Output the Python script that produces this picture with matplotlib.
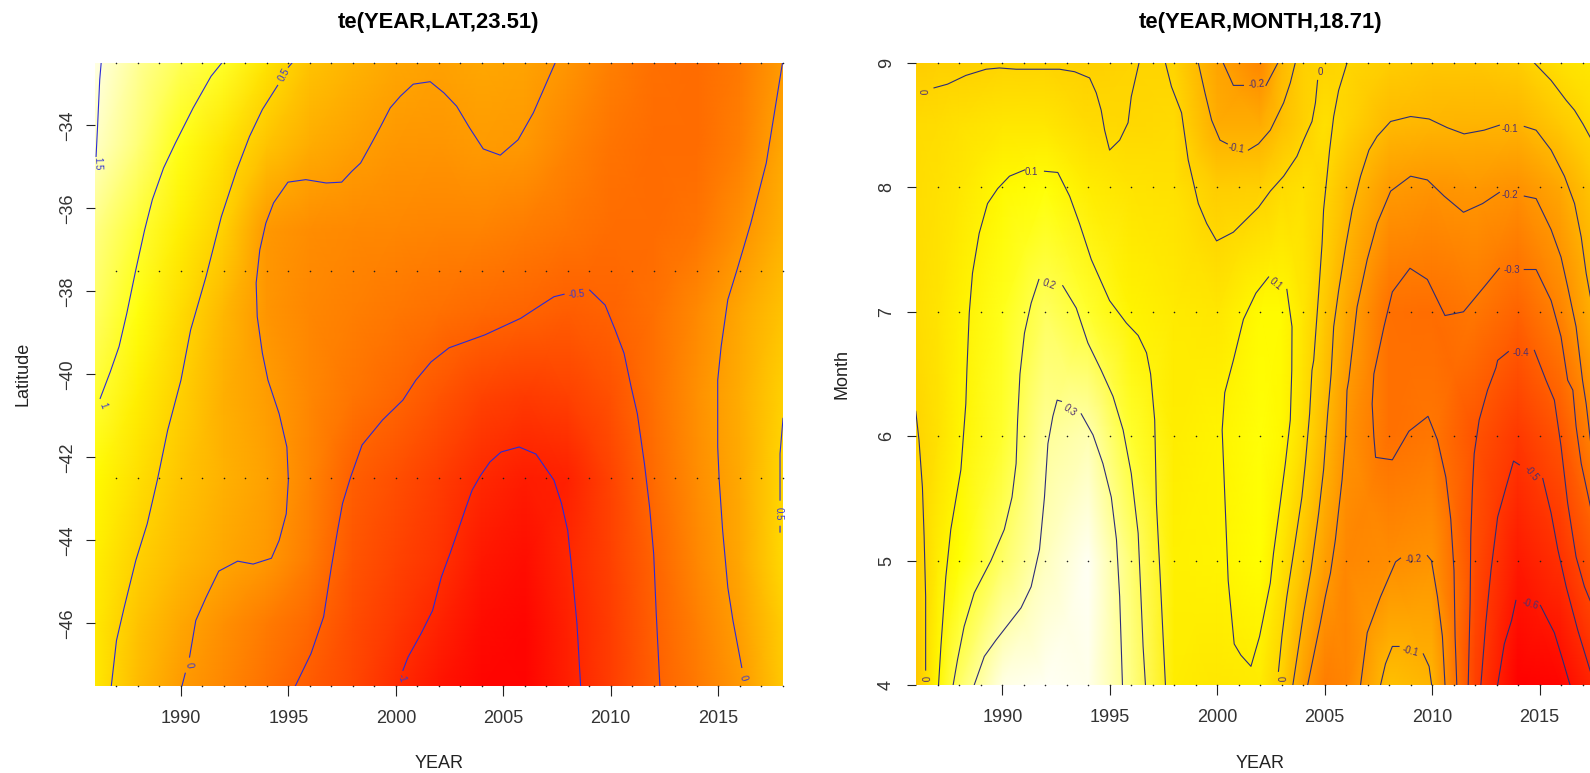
import numpy as np
import matplotlib
matplotlib.use('Agg')
import matplotlib.pyplot as plt
from matplotlib.colors import LinearSegmentedColormap

plt.rcParams['font.family'] = ['Liberation Sans', 'DejaVu Sans']

gap = (np.nan, np.nan)

# --- left panel: te(YEAR,LAT) ---
lat_years = [1986, 1988, 1990, 1992, 1994, 1996, 1998, 2000, 2002, 2004, 2006, 2008, 2010, 2012, 2014, 2016, 2018]
lat_rows = [-47.5, -46, -44.5, -42.5, -40.5, -38.5, -36.5, -34.5, -32.5]
lat_z = [
    [0.70, 0.28, 0.00, -0.18, -0.37, -0.57, -0.75, -0.98, -1.20, -1.33, -1.35, -1.10, -0.83, -0.53, -0.30, -0.03, 0.40],
    [0.70, 0.35, 0.10, -0.10, -0.28, -0.45, -0.70, -0.88, -1.07, -1.27, -1.33, -1.08, -0.83, -0.52, -0.25, 0.03, 0.45],
    [0.75, 0.47, 0.27, 0.10, -0.02, -0.28, -0.62, -0.78, -0.93, -1.17, -1.25, -1.03, -0.80, -0.50, -0.18, 0.10, 0.55],
    [0.85, 0.60, 0.38, 0.20, 0.06, -0.20, -0.53, -0.68, -0.83, -1.01, -1.12, -1.08, -0.78, -0.43, -0.12, 0.13, 0.53],
    [1.05, 0.75, 0.47, 0.18, 0.02, -0.18, -0.33, -0.46, -0.62, -0.78, -0.85, -0.80, -0.65, -0.38, -0.10, 0.15, 0.48],
    [1.20, 0.92, 0.58, 0.25, -0.05, -0.18, -0.25, -0.32, -0.38, -0.44, -0.49, -0.55, -0.50, -0.38, -0.15, 0.10, 0.35],
    [1.30, 1.05, 0.75, 0.47, -0.02, -0.12, -0.15, -0.18, -0.20, -0.22, -0.27, -0.33, -0.40, -0.42, -0.35, -0.10, 0.20],
    [1.50, 1.25, 0.95, 0.65, 0.35, 0.15, 0.05, -0.04, -0.05, 0.00, -0.03, -0.20, -0.35, -0.42, -0.42, -0.25, 0.10],
    [1.60, 1.35, 1.15, 1.00, 0.65, 0.35, 0.22, 0.10, 0.06, 0.10, 0.07, -0.05, -0.25, -0.38, -0.42, -0.30, 0.00],
]

lat_c15 = [(1986.29, -32.48), (1986.22, -32.9), (1986.12, -34.02), (1986.05, -34.75)]
lat_c10 = [(1991.93, -32.48), (1991.40, -32.82), (1990.57, -33.58), (1989.74, -34.43), (1989.19, -35.03),
           (1988.67, -35.79), (1988.31, -36.52), (1987.90, -37.48), (1987.48, -38.53), (1987.12, -39.33),
           (1986.71, -39.94), (1986.24, -40.58)]
lat_c05 = [(1995.2, -32.48), (1995.0, -32.6), gap, (1994.5, -33.04), (1993.79, -33.62), (1993.19, -34.27),
           (1992.6, -35.07), (1991.88, -36.2), (1991.17, -37.64), (1990.45, -38.93), (1990.0, -40.14),
           (1989.38, -41.35), (1988.9, -42.55), (1988.43, -43.6), (1987.9, -44.48), (1987.36, -45.61),
           (1987.0, -46.41), (1986.76, -47.5)]
lat_c00 = [(2007.43, -32.48), (2006.4, -33.7), (2005.69, -34.35), (2004.86, -34.72), (2004.07, -34.57),
           (2003.43, -34.06), (2002.83, -33.54), (2002.24, -33.22), (2001.6, -32.95), (2000.81, -33.01),
           (2000.21, -33.3), (1999.74, -33.58), (1999.26, -34.06), (1998.79, -34.51), (1998.36, -34.91),
           (1997.95, -35.11), (1997.48, -35.37), (1996.76, -35.39), (1995.81, -35.31), (1994.98, -35.37),
           (1994.31, -35.87), (1993.95, -36.36), (1993.67, -37.0), (1993.5, -37.8), (1993.55, -38.61),
           (1993.79, -39.49), (1994.05, -40.14), (1994.57, -40.95), (1994.93, -41.75), (1995.0, -42.55),
           (1994.9, -43.36), (1994.57, -44.0), (1994.21, -44.43), (1993.36, -44.57), (1992.64, -44.5),
           (1991.76, -44.74), (1991.17, -45.37), (1990.69, -45.93), (1990.4, -46.81), gap,
           (1990.2, -47.2), (1990.05, -47.5)]
lat_c00b = [(2018.0, -32.48), (2017.24, -34.91), (2016.52, -36.36), (2015.88, -37.48), (2015.45, -38.2),
            (2015.14, -39.33), (2014.98, -40.14), (2014.98, -41.75), (2015.05, -42.55), (2015.21, -43.76),
            (2015.45, -45.13), (2015.69, -45.93), (2016.1, -47.06)]
lat_cm05 = [(1995.33, -47.5), (1996.05, -46.73), (1996.64, -45.84), (1997.0, -44.64), (1997.29, -43.76),
            (1997.52, -43.11), (1997.9, -42.47), (1998.43, -41.7), (1999.38, -41.1), (2000.33, -40.62),
            (2000.93, -40.14), (2001.64, -39.7), (2002.48, -39.36), (2004.14, -39.05), (2005.81, -38.65),
            (2006.76, -38.33), (2007.36, -38.13), (2007.83, -38.07), gap, (2009.02, -37.97), (2009.74, -38.33),
            (2010.21, -38.93), (2010.62, -39.49), (2010.95, -40.3), (2011.24, -40.95), (2011.57, -42.15),
            (2011.81, -43.2), (2012.0, -44.32), (2012.12, -45.77), (2012.29, -47.5)]
lat_cm10 = [(2000.33, -47.13), (2000.57, -46.81), (2001.17, -46.25), (2001.71, -45.69), (2002.12, -44.88),
            (2002.52, -44.32), (2002.95, -43.68), (2003.24, -43.24), (2003.55, -42.79), (2003.95, -42.43),
            (2004.38, -42.11), (2004.9, -41.87), (2005.74, -41.75), (2006.52, -41.92), (2007.36, -42.55),
            (2007.71, -43.11), (2008.0, -43.76), (2008.24, -44.96), (2008.43, -46.01), (2008.6, -47.5)]
lat_c05b = [(2018.02, -41.06), (2017.88, -41.91), (2017.88, -43.03), gap, (2017.88, -43.66), (2017.88, -43.8)]
lat_lines = [lat_c15, lat_c10, lat_c05, lat_c00, lat_c00b, lat_cm05, lat_cm10, lat_c05b]

lat_labels = ['1.5', '1', '0.5', '0', '0', '-0.5', '-1', '0.5']
lat_label_x = [1986.12, 1986.36, 1994.81, 1990.38, 2016.17, 2008.43, 2000.29, 2017.81]
lat_label_y = [-34.93, -40.74, -32.78, -47.0, -47.32, -38.06, -47.33, -43.36]
lat_label_rot = [-88, -70, 62, -80, -75, 5, -72, -90]

lat_rug_years = list(range(1987, 2019))
lat_rug_rows = [-47.5, -42.5, -37.5, -32.5]

# --- right panel: te(YEAR,MONTH) ---
mon_years = [1986, 1987, 1988, 1990, 1992, 1994, 1996, 1998, 2000, 2002, 2003, 2004, 2005, 2006, 2008, 2010, 2012, 2014, 2016, 2018]
mon_rows = [4, 5, 6, 7, 8, 8.5, 9]
mon_z = [
    [-0.05, 0.10, 0.23, 0.36, 0.38, 0.37, 0.26, 0.07, 0.05, 0.06, -0.02, -0.17, -0.27, -0.25, -0.07, -0.10, -0.45, -0.66, -0.63, -0.50],
    [-0.03, 0.07, 0.12, 0.23, 0.32, 0.39, 0.24, 0.08, 0.09, 0.12, 0.04, -0.06, -0.17, -0.24, -0.22, -0.20, -0.42, -0.57, -0.50, -0.35],
    [-0.01, 0.03, 0.09, 0.17, 0.28, 0.31, 0.17, 0.07, 0.09, 0.13, 0.10, 0.02, -0.09, -0.20, -0.31, -0.29, -0.40, -0.48, -0.39, -0.20],
    [0.02, 0.04, 0.08, 0.15, 0.22, 0.17, 0.09, 0.06, 0.05, 0.11, 0.11, 0.05, -0.04, -0.14, -0.31, -0.32, -0.29, -0.35, -0.25, -0.07],
    [0.02, 0.03, 0.05, 0.105, 0.13, 0.07, 0.04, 0.03, -0.03, -0.02, 0.01, 0.03, 0.00, -0.07, -0.18, -0.20, -0.19, -0.21, -0.14, -0.02],
    [0.01, 0.02, 0.03, 0.05, 0.05, 0.01, 0.005, 0.01, -0.13, -0.13, -0.07, -0.02, 0.03, -0.01, -0.09, -0.10, -0.11, -0.11, -0.04, 0.03],
    [-0.03, -0.02, -0.02, -0.01, -0.01, -0.02, -0.01, -0.01, -0.15, -0.24, -0.09, -0.02, -0.01, 0.00, -0.03, -0.05, -0.05, -0.03, 0.03, 0.06],
]

mon_c00_top = [(1986.82, 8.8), (1987.45, 8.83), (1988.3, 8.9), (1989.24, 8.95), (1989.86, 8.96), (1990.64, 8.95),
               (1992.66, 8.95), (1993.36, 8.93), (1994.06, 8.88), (1994.37, 8.76), (1994.6, 8.62), (1994.76, 8.46),
               (1994.99, 8.30), (1995.46, 8.38), (1995.85, 8.52), (1996.0, 8.73), (1996.36, 9.0)]
mon_c00_mid = [(1997.59, 9.0), (1997.87, 8.81), (1998.34, 8.6), (1998.65, 8.22), (1999.12, 7.87), (1999.51, 7.71),
               (1999.97, 7.57), (2000.75, 7.64), (2001.92, 7.84), (2002.47, 7.97), (2003.09, 8.09), (2003.71, 8.25),
               (2004.02, 8.38), (2004.41, 8.53), (2004.57, 8.68), (2004.67, 8.86)]
mon_c00_left = [(1985.97, 6.2), (1986.12, 5.97), (1986.28, 5.59), (1986.36, 5.19), (1986.43, 4.71), (1986.43, 4.12)]
mon_c00_long = [(2006.04, 9.0), (2005.65, 8.78), (2005.42, 8.57), (2005.23, 8.30), (2005.11, 8.09), (2004.95, 7.82),
                (2004.88, 7.55), (2004.72, 7.15), (2004.49, 6.61), (2004.41, 6.53), (2004.3, 6.18), (2004.1, 5.78),
                (2003.94, 5.51), (2003.55, 5.06), (2003.24, 4.71), (2003.01, 4.39), (2002.85, 4.11)]
mon_c00_right = [(2014.76, 9.0), (2015.54, 8.86), (2016.24, 8.7), (2016.63, 8.62), (2017.02, 8.51), (2017.4, 8.39),
                 (2018.0, 8.1)]
mon_c01 = [(1987.03, 4.0), (1987.14, 4.31), (1987.37, 4.87), (1987.6, 5.25), (1988.07, 5.73), (1988.3, 6.26),
           (1988.35, 6.53), (1988.46, 6.99), (1988.61, 7.31), (1988.92, 7.63), (1989.31, 7.87), (1989.78, 7.99),
           (1990.33, 8.09), (1991.03, 8.14), gap, (1991.96, 8.13), (1992.58, 8.12), (1993.13, 7.93), (1993.59, 7.71),
           (1994.14, 7.42), (1994.99, 7.09), (1995.77, 6.91), (1996.32, 6.81), (1996.71, 6.67), (1996.9, 6.5),
           (1997.09, 6.13), (1997.17, 5.46), (1997.33, 4.92), (1997.59, 4.0)]
mon_c01b = [(2002.39, 7.28), (2001.8, 7.15), (2001.22, 6.94), (2000.75, 6.61), (2000.35, 6.35), (2000.23, 6.05),
            (2000.51, 4.84), (2000.79, 4.33), (2001.1, 4.24), (2001.57, 4.15), (2001.97, 4.39), (2002.47, 4.82),
            (2002.62, 5.06), (2002.93, 5.46), (2003.17, 5.78), (2003.4, 6.13), (2003.47, 6.53), (2003.48, 6.88),
            (2003.24, 7.18)]
mon_c02 = [(1987.71, 4.0), (1987.91, 4.2), (1988.22, 4.47), (1988.69, 4.74), (1989.47, 5.0), (1990.09, 5.25),
           (1990.45, 5.51), (1990.64, 5.78), (1990.71, 6.13), (1990.82, 6.5), (1991.03, 6.83), (1991.34, 7.07),
           (1991.7, 7.26), gap, (1992.81, 7.21), (1993.44, 7.03), (1993.98, 6.75), (1994.6, 6.53), (1995.15, 6.32),
           (1995.62, 6.05), (1996.0, 5.7), (1996.32, 5.22), (1996.43, 4.79), (1996.55, 4.31), (1996.66, 4.0)]
mon_c03 = [(1988.69, 4.0), (1989.16, 4.23), (1989.7, 4.36), (1990.33, 4.5), (1990.87, 4.62), (1991.34, 4.79),
           (1991.73, 5.09), (1991.96, 5.51), (1992.12, 5.94), (1992.35, 6.16), (1992.55, 6.29), (1992.75, 6.28), gap,
           (1993.67, 6.18), (1994.22, 6.01), (1994.68, 5.78), (1995.07, 5.51), (1995.31, 5.17), (1995.46, 4.71),
           (1995.59, 4.0)]
mon_cm01 = [(2003.52, 4.0), (2003.79, 4.31), (2004.02, 4.58), (2004.36, 4.92), (2004.72, 5.38), (2004.95, 5.73),
            (2005.14, 6.18), (2005.3, 6.5), (2005.42, 6.88), (2005.65, 7.17), (2005.97, 7.52), (2006.28, 7.82),
            (2006.67, 8.09), (2007.06, 8.30), (2007.44, 8.41), (2008.07, 8.53), (2009.0, 8.57), (2009.86, 8.55),
            (2010.71, 8.48), (2011.49, 8.43), (2012.42, 8.46), (2013.13, 8.50), gap, (2014.29, 8.49), (2014.84, 8.46),
            (2015.54, 8.30), (2016.16, 8.09), (2016.63, 7.87), (2016.94, 7.6), (2017.17, 7.31), (2017.4, 7.09),
            (2018.0, 6.6)]
mon_cm01_top = [(1999.12, 9.0), (1999.43, 8.76), (1999.74, 8.54), (2000.13, 8.38), (2000.47, 8.35), gap,
                (2001.45, 8.30), (2001.92, 8.35), (2002.47, 8.46), (2003.09, 8.68), (2003.4, 8.84), (2003.63, 9.0)]
mon_cm01_low = [(2007.6, 4.0), (2007.83, 4.17), (2008.15, 4.31), (2008.46, 4.31), gap, (2009.59, 4.25),
                (2009.86, 4.15), (2009.98, 4.0)]
mon_cm02 = [(2004.21, 4.0), (2004.41, 4.17), (2004.8, 4.5), (2005.03, 4.71), (2005.27, 4.9), (2005.5, 5.17),
            (2005.81, 5.65), (2005.97, 5.996), (2006.04, 6.37), (2006.12, 6.45), (2006.51, 7.04), (2006.98, 7.42),
            (2007.44, 7.71), (2008.07, 7.97), (2009.0, 8.09), (2009.78, 8.06), (2010.56, 7.93), (2011.46, 7.8),
            (2012.35, 7.87), (2013.13, 7.96), gap, (2014.29, 7.93), (2014.84, 7.91), (2015.54, 7.66), (2016.0, 7.44),
            (2016.31, 7.2), (2016.7, 6.88), (2017.0, 6.45), (2017.17, 6.26), (2017.4, 5.92), (2018.0, 5.2)]
mon_cm02_top = [(2000.28, 9.0), (2000.75, 8.82), (2001.22, 8.82), gap, (2002.27, 8.82), (2002.82, 9.0)]
mon_cm02_low = [(2006.67, 4.0), (2006.98, 4.42), (2007.6, 4.71), (2008.3, 4.99), (2008.53, 5.02), gap,
                (2009.78, 5.04), (2009.97, 5.0), (2010.25, 4.71), (2010.48, 4.39), (2010.6, 4.0)]
mon_cm03 = [(2011.15, 4.0), (2011.07, 4.39), (2011.02, 4.92), (2010.87, 5.33), (2010.64, 5.67), (2010.25, 5.97),
            (2009.81, 6.16), (2008.92, 6.04), (2008.15, 5.81), (2007.37, 5.83), (2007.29, 5.996), (2007.21, 6.26),
            (2007.29, 6.5), (2007.76, 6.88), (2008.15, 7.16), (2008.97, 7.35), (2009.78, 7.26), (2010.6, 6.97),
            (2011.46, 7.0), (2012.42, 7.2), (2013.13, 7.35), gap, (2014.29, 7.34), (2014.84, 7.34), (2015.54, 7.09),
            (2016.0, 6.8), (2016.31, 6.45), (2016.55, 6.37), (2016.7, 6.08), (2016.94, 5.78), (2017.4, 5.41),
            (2018.0, 5.0)]
mon_cm04 = [(2011.68, 4.0), (2011.77, 4.66), (2011.8, 5.19), (2011.88, 5.59), (2011.96, 5.86), (2012.19, 6.13),
            (2012.58, 6.37), (2012.97, 6.55), (2013.05, 6.61), (2013.55, 6.68), gap, (2014.76, 6.69), (2015.3, 6.45),
            (2015.69, 6.29), (2016.0, 5.92), (2016.31, 5.46), (2016.7, 5.03), (2017.09, 4.79), (2017.4, 4.66),
            (2018.0, 4.3)]
mon_cm05 = [(2012.27, 4.0), (2012.5, 4.5), (2012.74, 4.92), (2013.05, 5.35), (2013.44, 5.59), (2013.79, 5.8),
            (2014.06, 5.77), gap, (2015.15, 5.66), (2015.54, 5.38), (2015.85, 5.09), (2016.24, 4.79), (2016.78, 4.44),
            (2017.4, 4.09), (2017.7, 4.0)]
mon_cm06 = [(2013.05, 4.0), (2013.36, 4.33), (2013.7, 4.52), (2013.9, 4.68), gap, (2015.04, 4.64), (2015.69, 4.42),
            (2016.08, 4.2), (2016.42, 4.0)]
mon_lines = [mon_c00_top, mon_c00_mid, mon_c00_left, mon_c00_long, mon_c00_right, mon_c01, mon_c01b, mon_c02, mon_c03,
             mon_cm01, mon_cm01_top, mon_cm01_low, mon_cm02, mon_cm02_top, mon_cm02_low, mon_cm03, mon_cm04, mon_cm05,
             mon_cm06]

mon_labels = ['0', '0', '0', '0', '0.1', '0.1', '0.2', '0.3', '-0.1', '-0.1', '-0.1', '-0.2', '-0.2', '-0.2', '-0.3', '-0.4', '-0.5', '-0.6']
mon_label_x = [1986.23, 2004.8, 1986.33, 2002.93, 1991.37, 2002.7, 1992.16, 1993.13, 2013.64, 2000.87, 2009.0, 2013.64, 2001.81, 2009.13, 2013.7, 2014.14, 2014.6, 2014.57]
mon_label_y = [8.77, 8.93, 4.05, 4.05, 8.12, 7.22, 7.22, 6.21, 8.47, 8.31, 4.27, 7.94, 8.83, 5.01, 7.34, 6.67, 5.7, 4.65]
mon_label_rot = [-88, 0, -88, -88, 0, -40, -20, -35, 0, -10, -15, 0, 5, 5, 0, 0, -50, -15]

mon_rug_years = list(range(1987, 2019))
mon_rug_rows = [4, 5, 6, 7, 8, 9]

# R heat.colors style ramp: red -> yellow over 3/4, then to near white
heat = LinearSegmentedColormap.from_list('heat', [(0, '#ff0000'), (0.75, '#ffff00'), (1, '#fffff4')])


def draw_panel(ax, years, rows, z, vmin, vmax, lines, labels, label_x, label_y, label_rot, rug_years, rug_rows,
               line_col, label_col, ypad):
    ax.pcolormesh(years, rows, np.array(z), cmap=heat, vmin=vmin, vmax=vmax, shading='gouraud', rasterized=True)
    for line in lines:
        pts = np.array(line)
        ax.plot(pts[:, 0], pts[:, 1], color=line_col, lw=0.8)
    for t, x, y, r in zip(labels, label_x, label_y, label_rot):
        ax.text(x, y, t, fontsize=7, color=label_col, rotation=r, ha='center', va='center', rotation_mode='anchor')
    rx, ry = np.meshgrid(rug_years, rug_rows)
    ax.scatter(rx.ravel(), ry.ravel(), s=1.3, c='#222222', linewidths=0, zorder=3, clip_on=False)
    for s in ax.spines.values():
        s.set_visible(False)
    ax.set_xlim(1986, 2018)
    ax.set_xticks([1990, 1995, 2000, 2005, 2010, 2015])
    ax.tick_params(axis='x', length=7.5, width=0.8, pad=10, labelsize=13, color='#222222', labelcolor='#333333')
    ax.tick_params(axis='y', length=6.5, width=0.8, pad=ypad, labelsize=13, color='#222222', labelcolor='#333333')
    for lab in ax.get_yticklabels():
        lab.set_rotation(90)
        lab.set_va('center')
    ax.xaxis.set_label_coords(0.5, -0.112)


fig = plt.figure(figsize=(15.9, 7.73), dpi=100)

ax1 = fig.add_axes([95 / 1590, 1 - 685.7 / 773, 687.6 / 1590, 622.7 / 773])
ax1.set_ylim(-47.5, -32.5)
ax1.set_yticks([-46, -44, -42, -40, -38, -36, -34])
draw_panel(ax1, lat_years, lat_rows, lat_z, -1.38, 1.65, lat_lines, lat_labels, lat_label_x, lat_label_y, lat_label_rot,
           lat_rug_years, lat_rug_rows, '#2a2ad8', '#3a3ad0', 7)
ax1.set_ylim(-47.5, -32.5)
ax1.set_xlabel('YEAR', fontsize=13, color='#222222')
ax1.set_ylabel('Latitude', fontsize=13, color='#222222')
ax1.yaxis.set_label_coords(-0.0925, 0.5)
ax1.set_title('te(YEAR,LAT,23.51)', fontsize=15.8, fontweight='bold', pad=25)

# axes runs past the right edge of the figure, the reference is cropped there
ax2 = fig.add_axes([916.4 / 1590, 1 - 685 / 773, 687.6 / 1590, 622 / 773])
ax2.set_ylim(4, 9)
ax2.set_yticks([4, 5, 6, 7, 8, 9])
draw_panel(ax2, mon_years, mon_rows, mon_z, -0.65, 0.38, mon_lines, mon_labels, mon_label_x, mon_label_y, mon_label_rot,
           mon_rug_years, mon_rug_rows, '#2c2c78', '#503070', 9)
ax2.set_ylim(4, 9)
ax2.set_xlabel('YEAR', fontsize=13, color='#222222')
ax2.set_ylabel('Month', fontsize=13, color='#222222')
ax2.yaxis.set_label_coords(-0.096, 0.5)
ax2.set_title('te(YEAR,MONTH,18.71)', fontsize=15.8, fontweight='bold', pad=25)

fig.savefig('out.png', dpi=100)
